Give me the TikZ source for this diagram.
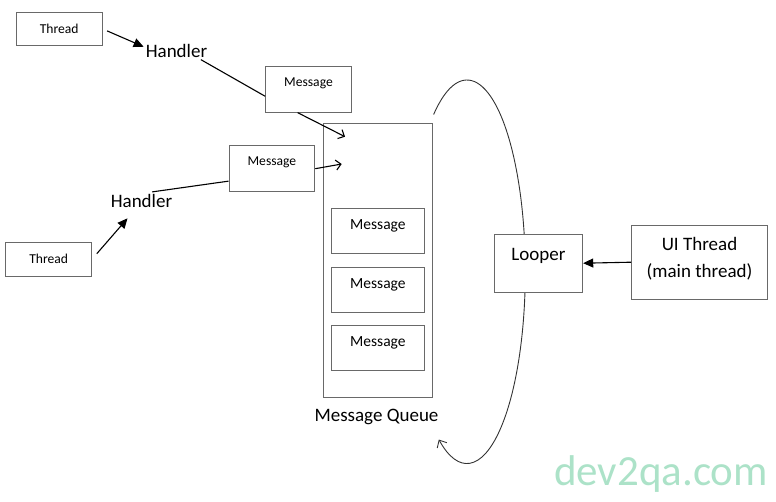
\documentclass[tikz,border=0pt]{standalone}
\usepackage{fontspec}
\setmainfont{Carlito}
\usepackage{tikz}
\usetikzlibrary{arrows.meta, calc, positioning}

\definecolor{boxgray}{RGB}{105,105,105}
\definecolor{wmgreen}{RGB}{172,226,200}

\tikzset{
  box/.style={draw=boxgray, line width=1pt, fill=white, inner sep=0pt},
  smallfont/.style={font=\fontsize{13.6}{16}\selectfont},
  midfont/.style={font=\fontsize{15.5}{18}\selectfont},
  bigfont/.style={font=\fontsize{19}{26.7}\selectfont},
  conn/.style={line width=1.1pt},
  filltip/.style={conn, -{Triangle[length=10pt,width=9pt]}},
  opentip/.style={conn, -{Straight Barb[length=5pt,width=10pt]}},
  msgbox/.style={box, smallfont, minimum width=85.7pt, text height=20pt, text depth=25.5pt},
  qmsgbox/.style={box, midfont, minimum width=93.7pt, text height=21.5pt, text depth=23.8pt},
}

\begin{document}
\begin{tikzpicture}[x=1pt, y=-1pt]
        % --- 定義: 画像サイズ ---
        \def\picW{776}
        \def\picH{501}
        \useasboundingbox (0,0) rectangle (\picW,\picH);

        % --- ループ (Looper の周り) ---
        \def\loopRx{58.3}
        \def\loopRy{191.7}
        \coordinate (loopC) at (467,271.7);
        \coordinate (loopS) at ($(loopC)+(-124.9:58.3 and 191.7)$);
        \draw[line width=0.9pt, draw=black!80, -{Straight Barb[length=6pt,width=11pt]}]
            (loopS) arc[start angle=-124.9, end angle=118.9, x radius=\loopRx, y radius=\loopRy];

        % --- スレッドとハンドラ ---
        \node[box, smallfont, minimum width=85.7pt, minimum height=33.7pt] (threadA) at (59.2,28.9) {Thread};
        \node[box, smallfont, minimum width=86pt, minimum height=34pt] (threadB) at (48.7,259) {Thread};
        \node[bigfont, anchor=base, inner sep=2pt] (handlerA) at (176.5,57.3) {Handler};
        \node[bigfont, anchor=base, inner sep=2pt] (handlerB) at (141.5,207.3) {Handler};

        % --- 送られるメッセージ ---
        \node[msgbox] (msgA) at (308.5,89.4) {Message};
        \node[msgbox] (msgB) at (271.9,168.7) {Message};

        % --- メッセージキュー ---
        \node[box, minimum width=108.7pt, minimum height=274pt] (queue) at (378.3,260.3) {};
        \foreach \i/\y in {1/230.7, 2/289.8, 3/347.7}
            \node[qmsgbox] (qmsg\i) at (377.9,\y) {Message};
        \node[bigfont, anchor=base, inner sep=0pt] (queueLabel) at (376.5,421.7) {Message Queue};
        \coordinate (inA) at (345,136.7);
        \coordinate (inB) at (341.7,164);

        % --- Looper と UI スレッド ---
        \node[box, bigfont, minimum width=88.4pt, text height=26pt, text depth=32.3pt] (looper) at (538.5,263.2) {Looper};
        \node[box, bigfont, align=center, minimum width=135.6pt, minimum height=74.3pt, text depth=9pt] (uiThread) at (699.5,262.2) {UI Thread\\(main thread)};

        % --- 接続線 ---
        \draw[filltip, shorten <=5pt] (threadA.east) -- (handlerA.173);
        \draw[conn] (handlerA.-20) -- (msgA.189);
        \draw[opentip] (msgA.245) -- (inA);
        \draw[filltip, shorten <=7pt, shorten >=11.5pt] (threadB.east) -- (handlerB.234);
        \draw[conn] (handlerB.40) -- (msgB.196);
        \draw[opentip] (msgB.east) -- (inB);
        \draw[filltip] (uiThread.west) -- (looper.east);

        % --- 透かし ---
        \node[text=wmgreen, font=\fontsize{43}{43}\selectfont, anchor=base, inner sep=0pt] (mark) at (661,485) {dev2qa.com};

    \end{tikzpicture}
\end{document}
